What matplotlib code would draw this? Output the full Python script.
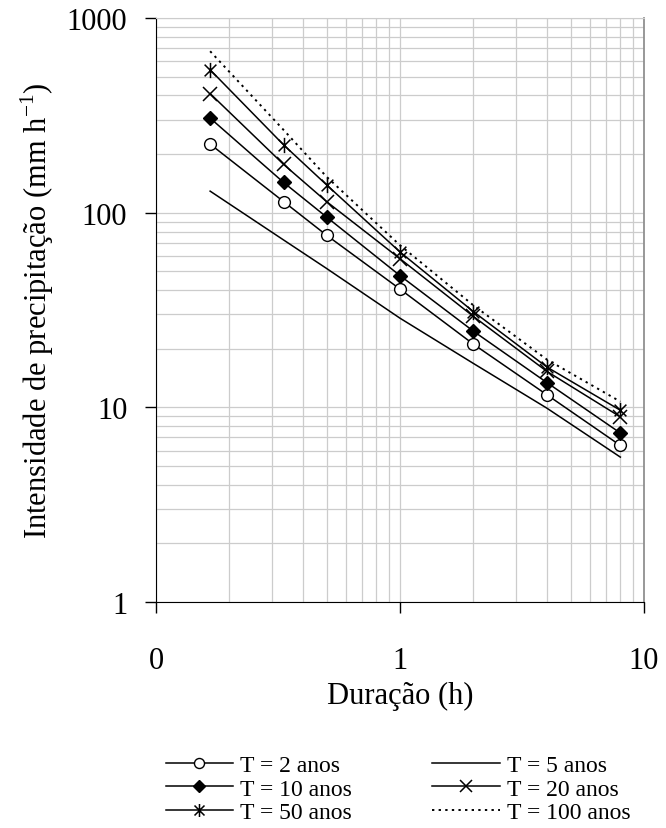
import matplotlib
matplotlib.use('Agg')
import matplotlib.pyplot as plt
from matplotlib.path import Path
from matplotlib.ticker import FixedLocator, LogLocator, NullFormatter

plt.rcParams['font.family'] = ['Liberation Serif', 'DejaVu Serif']
plt.rcParams['mathtext.fontset'] = 'custom'
plt.rcParams['mathtext.rm'] = 'Liberation Serif'

# duracao (h): 10, 20, 30 min, 1, 2, 4, 8 h
duracao = [1/6, 1/3, 0.5, 1, 2, 4, 8]

t2 = [225, 114, 76.6, 40.5, 21.1, 11.6, 6.37]
t5 = [129, 72.4, 51.7, 28.7, 16.8, 9.9, 5.55]
t10 = [306, 143, 95, 47.5, 24.6, 13.4, 7.38]
t20 = [409, 177, 114, 58, 29.3, 15.3, 8.93]
t50 = [542, 223, 139, 62.8, 31.0, 16.1, 9.66]
t100 = [675, 266, 153, 68, 33.4, 17.6, 10.7]

x_ticks = [0.1, 1, 10]
x_ticklabels = ['0', '1', '10']
y_ticks = [1, 10, 100, 1000]
y_ticklabels = ['1', '10', '100', '1000']

# asterisco tipo Excel (x + barra vertical)
estrela = Path([(-1, -1), (1, 1), (-1, 1), (1, -1), (0, -1.3), (0, 1.3)],
               [Path.MOVETO, Path.LINETO, Path.MOVETO, Path.LINETO, Path.MOVETO, Path.LINETO])

fig = plt.figure(figsize=(6.66, 8.29), dpi=100)
ax = fig.add_axes([156/666, 1 - 603/829, 488/666, 584/829])

kw = dict(color='black', lw=1.1)
l2, = ax.plot(duracao, t2, marker='o', ms=8.5, mfc='white', mec='black', mew=1.0, **kw)
l5, = ax.plot(duracao, t5, **kw)
l10, = ax.plot(duracao, t10, marker='D', ms=7.5, mfc='black', mec='black', **kw)
l20, = ax.plot(duracao, t20, marker='x', ms=10, mew=1.1, **kw)
l50, = ax.plot(duracao, t50, marker=estrela, ms=11, mfc='none', mew=1.1, **kw)
l100, = ax.plot(duracao, t100, color='black', lw=1.4, ls=(0, (1.2, 2.2)))

ax.set_xscale('log')
ax.set_yscale('log')
ax.set_xlim(0.1, 10)
ax.set_ylim(1, 1000)

ax.xaxis.set_major_locator(FixedLocator(x_ticks))
ax.set_xticklabels(x_ticklabels)
ax.yaxis.set_major_locator(FixedLocator(y_ticks))
ax.set_yticklabels(y_ticklabels)
ax.xaxis.set_minor_locator(LogLocator(base=10, subs=range(2, 10)))
ax.yaxis.set_minor_locator(LogLocator(base=10, subs=range(2, 10)))
ax.xaxis.set_minor_formatter(NullFormatter())
ax.yaxis.set_minor_formatter(NullFormatter())

ax.grid(True, which='both', color='#cccccc', lw=0.9)
ax.set_axisbelow(True)

ax.tick_params(which='minor', length=0)
ax.tick_params(axis='x', which='major', direction='out', length=7.7, width=1,
               labelsize=22, pad=24)
ax.tick_params(axis='y', which='major', direction='out', length=7.7, width=1,
               labelsize=22, pad=13)
ax.xaxis.get_major_ticks()[2].tick1line.set_color('#909090')

ax.spines['top'].set_color('#cccccc')
ax.spines['right'].set_color('#909090')
ax.spines['right'].set_linewidth(1.3)

ax.set_xlabel('Duração (h)', fontsize=22, labelpad=4)
ax.set_ylabel('Intensidade de precipitação (mm h$^{\\mathrm{-1}}$)', fontsize=22, labelpad=8)

handles = [l2, l10, l50, l5, l20, l100]
labels = ['T = 2 anos', 'T = 10 anos', 'T = 50 anos',
          'T = 5 anos', 'T = 20 anos', 'T = 100 anos']
fig.legend(handles, labels, loc='upper center', bbox_to_anchor=(398/666, 1 - 744/829),
           ncol=2, frameon=False, fontsize=17, handlelength=2.85, handletextpad=0.3,
           columnspacing=3.4, labelspacing=0.08, borderpad=0, markerscale=0.85)

plt.savefig('out.png', dpi=100)
